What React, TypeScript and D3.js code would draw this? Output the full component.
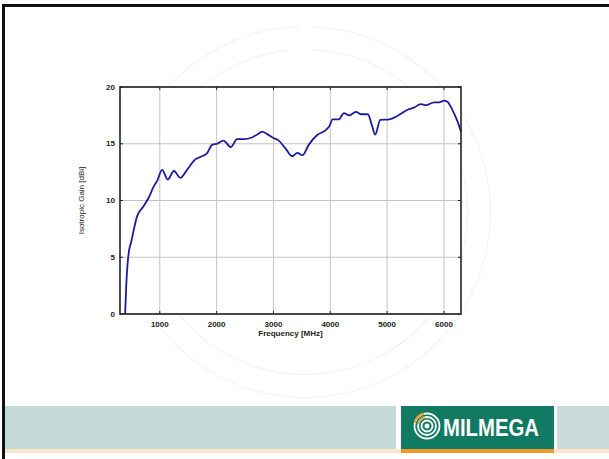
import React from "react";
import * as d3 from "d3";

const freqs = [390, 410, 440, 460, 500, 550, 600, 700, 800, 890, 960, 1040, 1140, 1250, 1360, 1480, 1620, 1740, 1830, 1920, 2010, 2120, 2250, 2360, 2480, 2620, 2710, 2800, 2890, 3000, 3090, 3210, 3330, 3420, 3510, 3620, 3770, 3920, 3990, 4040, 4150, 4240, 4330, 4450, 4540, 4660, 4740, 4790, 4880, 5040, 5180, 5360, 5480, 5590, 5680, 5830, 5920, 6000, 6060, 6150, 6240, 6300];
const gains = [0, 2.5, 4.8, 5.6, 6.4, 7.6, 8.6, 9.4, 10.2, 11.2, 11.8, 12.7, 11.85, 12.6, 12.0, 12.7, 13.6, 13.9, 14.15, 14.9, 15.0, 15.27, 14.7, 15.4, 15.4, 15.55, 15.8, 16.06, 15.85, 15.5, 15.3, 14.6, 13.9, 14.2, 13.98, 14.9, 15.77, 16.2, 16.6, 17.15, 17.15, 17.7, 17.5, 17.8, 17.6, 17.6, 16.5, 15.8, 17.1, 17.15, 17.45, 18.0, 18.2, 18.5, 18.4, 18.65, 18.65, 18.8, 18.7, 17.97, 16.95, 16.06];
const xTicks = [1000, 2000, 3000, 4000, 5000, 6000];
const yTicks = [0, 5, 10, 15, 20];
const xDomain = [300, 6300];
const yDomain = [0, 20];
const xLabel = "Frequency [MHz]";
const yLabel = "Isotropic Gain [dBi]";
const brand = "MILMEGA";

export default function App() {
  const W = 609, H = 459;
  const L = 120, R = 461, T = 87, B = 314;
  const x = d3.scaleLinear().domain(xDomain).range([L, R]);
  const y = d3.scaleLinear().domain(yDomain).range([B, T]);
  const pts = freqs.map((f, i) => [f, gains[i]] as [number, number]);
  const line = d3.line<[number, number]>().x(d => x(d[0])).y(d => y(d[1])).curve(d3.curveMonotoneX);
  const font = "'Liberation Sans', Arial, sans-serif";
  const cx = 305, cy = 212;
  const arc1 = d3.arc()({ innerRadius: 185, outerRadius: 186, startAngle: 0.03, endAngle: 2 * Math.PI - 0.03 } as any) || "";
  const arc2 = d3.arc()({ innerRadius: 162, outerRadius: 163, startAngle: 0.05, endAngle: 2 * Math.PI - 0.1 } as any) || "";
  const ic = { x: 427, y: 426 };
  return (
    <svg width={W} height={H} style={{ position: "absolute", left: 0, top: 0, background: "#fff" }} fontFamily={font}>
      <rect x={0} y={0} width={W} height={H} fill="#fff" />
      {/* watermark */}
      <g transform={`translate(${cx},${cy})`} fill="#f1f1f1">
        <path d={arc1} />
        <path d={arc2} />
      </g>
      {/* slide border */}
      <line x1={2} y1={5.5} x2={W} y2={5.5} stroke="#111" strokeWidth={3} />
      <line x1={3.5} y1={4} x2={3.5} y2={H} stroke="#111" strokeWidth={3} />
      {/* bottom band */}
      <rect x={5} y={406} width={391} height={43} fill="#c4dad7" />
      <rect x={557} y={406} width={W - 557} height={43} fill="#c9dcda" />
      <rect x={5} y={449} width={W - 5} height={4} fill="#fde5cc" />
      <rect x={401} y={406} width={153} height={43} fill="#117a63" />
      <rect x={401} y={449} width={153} height={4} fill="#f09a2e" />
      <g fill="none" strokeWidth={1.8}>
        <circle cx={ic.x} cy={ic.y} r={2.5} fill="#fff" stroke="none" />
        <circle cx={ic.x} cy={ic.y} r={5.5} stroke="#fff" />
        <circle cx={ic.x} cy={ic.y} r={9} stroke="#fff" />
        <circle cx={ic.x} cy={ic.y} r={12.5} stroke="#fff" />
        <path d={`M${ic.x - 9},${ic.y - 2} A9,9 0 0 1 ${ic.x - 2},${ic.y - 9}`} stroke="#e0a030" />
        <path d={`M${ic.x - 12.5},${ic.y - 3} A12.5,12.5 0 0 1 ${ic.x - 3},${ic.y - 12.5}`} stroke="#e0a030" />
      </g>
      <text x={443} y={436} fill="#fff" fontWeight="bold" fontSize={23} textLength={96} lengthAdjust="spacingAndGlyphs">{brand}</text>
      {/* plot background */}
      <rect x={L} y={T} width={R - L} height={B - T} fill="#fff" />
      {/* grid */}
      <g stroke="#c4c4c4" strokeWidth={1}>
        {xTicks.map(t => <line key={t} x1={x(t)} x2={x(t)} y1={T} y2={B} />)}
        {yTicks.map(t => <line key={t} x1={L} x2={R} y1={y(t)} y2={y(t)} />)}
      </g>
      {/* ticks inside */}
      <g stroke="#222" strokeWidth={1}>
        {xTicks.map(t => <line key={"b" + t} x1={x(t)} x2={x(t)} y1={B} y2={B - 3} />)}
        {xTicks.map(t => <line key={"t" + t} x1={x(t)} x2={x(t)} y1={T} y2={T + 3} />)}
        {yTicks.map(t => <line key={"l" + t} x1={L} x2={L + 3} y1={y(t)} y2={y(t)} />)}
        {yTicks.map(t => <line key={"r" + t} x1={R} x2={R - 3} y1={y(t)} y2={y(t)} />)}
      </g>
      <path d={line(pts) || ""} fill="none" stroke="#1c1c9c" strokeWidth={1.8} />
      <rect x={L} y={T} width={R - L} height={B - T} fill="none" stroke="#222" strokeWidth={1.6} />
      {/* tick labels */}
      <g fontSize={8} fontWeight="bold" fill="#222">
        {xTicks.map(t => <text key={t} x={x(t)} y={B + 13} textAnchor="middle">{t}</text>)}
        {yTicks.map(t => <text key={t} x={L - 5} y={y(t) + 2.5} textAnchor="end">{t}</text>)}
      </g>
      <text x={x(3300)} y={B + 22} fontSize={8} fontWeight="bold" fill="#222" textAnchor="middle">{xLabel}</text>
      <text transform={`translate(${84},${(T + B) / 2}) rotate(-90)`} fontSize={8} fill="#222" textAnchor="middle">{yLabel}</text>
    </svg>
  );
}
